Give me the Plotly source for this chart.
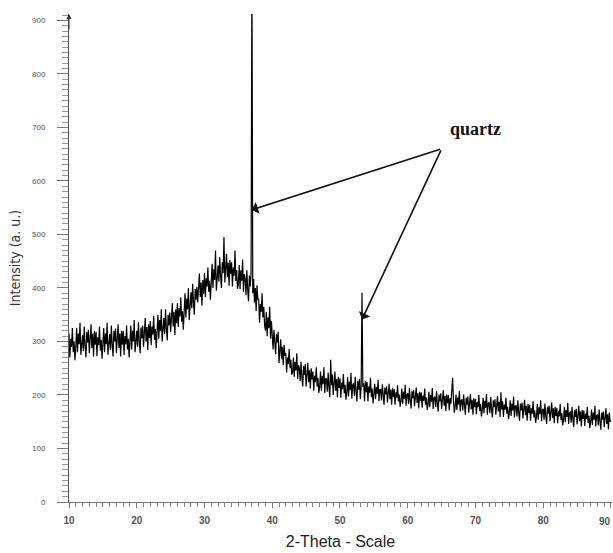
import plotly.graph_objects as go

scan_start = 10.0
scan_step = 0.125
intensity = [
    315, 270, 305, 290, 325, 280, 300, 265,   # 10
    290, 325, 280, 315, 295, 335, 275, 308,   # 11
    312, 282, 328, 292, 270, 318, 298, 322,   # 12
    278, 305, 332, 288, 315, 272, 320, 294,   # 13
    318, 273, 308, 293, 328, 283, 303, 268,   # 14
    290, 325, 280, 315, 295, 335, 275, 308,   # 15
    314, 284, 330, 294, 272, 320, 300, 324,   # 16
    278, 305, 332, 288, 315, 272, 320, 294,   # 17
    320, 275, 310, 295, 330, 285, 305, 270,   # 18
    295, 330, 285, 320, 300, 340, 280, 313,   # 19
    320, 290, 336, 300, 278, 326, 306, 330,   # 20
    290, 317, 344, 300, 327, 284, 332, 306,   # 21
    338, 293, 328, 313, 348, 303, 323, 288,   # 22
    315, 350, 305, 340, 320, 360, 300, 333,   # 23
    344, 314, 360, 324, 302, 350, 330, 354,   # 24
    318, 345, 372, 328, 355, 312, 360, 334,   # 25
    372, 327, 362, 347, 382, 337, 357, 322,   # 26
    355, 390, 345, 380, 360, 400, 340, 373,   # 27
    392, 362, 408, 372, 350, 398, 378, 402,   # 28
    373, 400, 427, 383, 410, 367, 415, 389,   # 29
    428, 383, 418, 403, 438, 393, 413, 378,   # 30
    410, 445, 400, 435, 415, 470, 395, 428,   # 31
    442, 412, 458, 422, 400, 448, 428, 495,   # 32
    410, 437, 464, 420, 447, 404, 452, 426,   # 33
    448, 403, 438, 423, 470, 413, 433, 398,   # 34
    408, 443, 398, 433, 413, 453, 393, 426,   # 35
    417, 387, 433, 397, 375, 423, 403, 427,   # 36
    1000, 390, 417, 373, 400, 357, 405, 379,  # 37 (quartz)
    380, 335, 370, 355, 390, 345, 365, 330,   # 38
    320, 355, 310, 345, 325, 365, 305, 338,   # 39
    310, 285, 322, 293, 276, 314, 298, 318,   # 40
    260, 282, 304, 268, 290, 256, 294, 273,   # 41
    278, 242, 270, 258, 286, 250, 266, 238,   # 42
    242, 270, 234, 262, 246, 278, 230, 256,   # 43
    250, 226, 262, 234, 216, 254, 238, 258,   # 44
    216, 238, 260, 224, 246, 212, 250, 229,   # 45
    244, 208, 236, 224, 252, 216, 232, 204,   # 46
    216, 244, 208, 236, 220, 252, 204, 230,   # 47
    230, 206, 242, 214, 196, 266, 218, 238,   # 48
    200, 222, 244, 208, 230, 196, 234, 213,   # 49
    231, 195, 223, 211, 239, 203, 219, 191,   # 50
    205, 233, 197, 225, 209, 241, 193, 219,   # 51
    222, 198, 234, 206, 188, 226, 210, 230,   # 52
    192, 214, 391, 215, 222, 188, 226, 205,   # 53 (quartz)
    224, 188, 216, 204, 232, 196, 212, 184,   # 54
    198, 221, 192, 215, 202, 228, 189, 210,   # 55
    210, 190, 220, 197, 182, 214, 201, 216,   # 56
    186, 203, 221, 192, 210, 182, 213, 196,   # 57
    211, 182, 205, 195, 218, 188, 201, 178,   # 58
    189, 212, 183, 206, 193, 219, 180, 201,   # 59
    203, 183, 213, 190, 175, 207, 194, 209,   # 60
    179, 196, 214, 185, 203, 175, 206, 189,   # 61
    205, 176, 199, 189, 212, 182, 195, 172,   # 62
    183, 206, 177, 200, 187, 213, 174, 195,   # 63
    197, 177, 207, 184, 169, 201, 188, 203,   # 64
    174, 191, 209, 180, 198, 170, 201, 184,   # 65
    200, 171, 194, 184, 207, 232, 190, 167,   # 66
    178, 201, 172, 195, 182, 208, 169, 190,   # 67
    191, 171, 201, 178, 163, 195, 182, 197,   # 68
    167, 184, 202, 173, 191, 163, 194, 177,   # 69
    193, 164, 187, 177, 200, 170, 183, 160,   # 70
    172, 195, 166, 189, 176, 202, 163, 184,   # 71
    186, 166, 196, 173, 158, 190, 177, 192,   # 72
    163, 180, 198, 169, 187, 159, 205, 173,   # 73
    188, 159, 182, 172, 195, 165, 178, 155,   # 74
    167, 190, 161, 184, 171, 197, 158, 179,   # 75
    180, 160, 190, 167, 152, 184, 171, 186,   # 76
    156, 173, 191, 162, 180, 152, 183, 166,   # 77
    181, 152, 175, 165, 188, 158, 171, 148,   # 78
    160, 183, 154, 177, 164, 190, 151, 172,   # 79
    174, 154, 184, 161, 146, 178, 165, 180,   # 80
    151, 168, 186, 157, 175, 147, 178, 161,   # 81
    176, 147, 170, 160, 183, 153, 166, 143,   # 82
    155, 178, 149, 172, 159, 185, 146, 167,   # 83
    168, 148, 178, 155, 140, 172, 159, 174,   # 84
    145, 162, 180, 151, 169, 141, 172, 155,   # 85
    171, 142, 165, 155, 178, 148, 161, 138,   # 86
    150, 173, 144, 167, 154, 180, 141, 162,   # 87
    163, 143, 173, 150, 135, 167, 154, 169,   # 88
    140, 157, 175, 146, 164, 136, 167, 150,   # 89
    152,                                      # 90
]
two_theta = [scan_start + scan_step * i for i in range(len(intensity))]

# quartz annotation: label position and the two peaks it points at
label_text = "quartz"
label_pos = (70.0, 697)
arrow_tail = (65.0, 660)
quartz_peaks = [(36.97, 546), (53.25, 341)]

x_ticks = [10, 20, 30, 40, 50, 60, 70, 80]
x_last_tick = 90
y_ticks = [0, 100, 200, 300, 400, 500, 600, 700, 800, 900]

fig = go.Figure()
fig.add_trace(go.Scatter(
    x=two_theta, y=intensity, mode="lines",
    line=dict(color="#000000", width=1.2), showlegend=False, hoverinfo="skip",
))

annotations = [
    dict(x=label_pos[0], y=label_pos[1], xref="x", yref="y", text="<b>" + label_text + "</b>",
         showarrow=False, font=dict(family="Liberation Serif, Times New Roman, serif", size=18, color="#111")),
    # last x tick label, kept inside the right edge of the picture
    dict(x=x_last_tick, y=0, xref="x", yref="y", yshift=-19, xanchor="right", xshift=2,
         text="<b>%d</b>" % x_last_tick,
         showarrow=False, font=dict(family="Liberation Sans, Arial, sans-serif", size=10, color="#555")),
]
for px, py in quartz_peaks:
    annotations.append(dict(
        x=px, y=py, xref="x", yref="y", ax=arrow_tail[0], ay=arrow_tail[1],
        axref="x", ayref="y", text="", showarrow=True,
        arrowhead=1, arrowsize=1.3, arrowwidth=1.6, arrowcolor="#111",
    ))
# small arrow at the top of the y axis
annotations.append(dict(x=10, y=912, xref="x", yref="y", ax=10, ay=880, axref="x", ayref="y",
                        text="", showarrow=True, arrowhead=2, arrowsize=1, arrowwidth=1,
                        arrowcolor="#333"))

fig.update_layout(
    width=613, height=553,
    margin=dict(l=69, r=1, t=14, b=51),
    paper_bgcolor="white", plot_bgcolor="white",
    font=dict(family="Liberation Sans, Arial, sans-serif", color="#444"),
    annotations=annotations,
    xaxis=dict(
        range=[10, 90.15], tickvals=x_ticks + [x_last_tick],
        ticktext=["<b>%d</b>" % t for t in x_ticks] + [""],
        ticks="outside", ticklen=5, tickwidth=1,
        tickcolor="#777", showline=True, linecolor="#777", linewidth=1,
        showgrid=False, zeroline=False,
        minor=dict(dtick=1, ticks="outside", ticklen=4, tickcolor="#888", showgrid=False),
        tickfont=dict(size=10, color="#555", family="Liberation Sans, Arial, sans-serif"),
        ticklabelstandoff=4,
        title=dict(text="2-Theta - Scale", standoff=10,
                   font=dict(size=16, color="#222", family="Liberation Sans, Arial, sans-serif")),
    ),
    yaxis=dict(
        range=[0, 912], tickvals=y_ticks, ticks="outside", ticklen=11, tickwidth=1,
        tickcolor="#777", showline=True, linecolor="#555", linewidth=1,
        showgrid=False, zeroline=False,
        minor=dict(dtick=10, ticks="outside", ticklen=6, tickcolor="#999", showgrid=False),
        tickfont=dict(size=8, color="#555", family="Liberation Sans, Arial, sans-serif"),
        ticklabelstandoff=10,
        title=dict(text="Intensity (a. u.)", standoff=8,
                   font=dict(size=14, color="#333",
                             family="DejaVu Sans Condensed, Liberation Sans Narrow, Liberation Sans, sans-serif")),
    ),
)

fig.write_html("out.html")
